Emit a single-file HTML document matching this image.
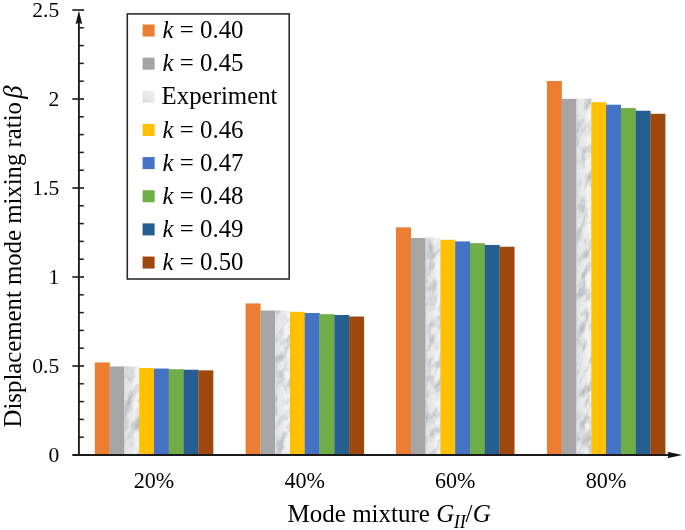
<!DOCTYPE html>
<html><head><meta charset="utf-8"><title>chart</title>
<style>
html,body{margin:0;padding:0;background:#fff;}
svg{display:block;will-change:transform;filter:blur(0.4px);}
text{font-family:"Liberation Serif",serif;fill:#000;}
</style></head><body>
<svg width="685" height="530" viewBox="0 0 685 530">
<defs>
<filter id="mf" x="0" y="0" width="100%" height="100%" color-interpolation-filters="sRGB">
<feTurbulence type="fractalNoise" baseFrequency="0.14 0.065" numOctaves="5" seed="5" result="n"/>
<feColorMatrix in="n" type="matrix" values="0 0 0 0 0.66  0 0 0 0 0.68  0 0 0 0 0.70  -2.0 0 0 0 1.13"/>
</filter>
<linearGradient id="mg" x1="0" y1="0" x2="1" y2="0">
<stop offset="0" stop-color="#e1e2e4"/><stop offset="0.5" stop-color="#e8e9eb"/><stop offset="0.72" stop-color="#f1f1f2"/><stop offset="1" stop-color="#f4f4f5"/>
</linearGradient>
<clipPath id="mc">
<rect x="124.38" y="366.44" width="14.99" height="88.56"/>
<rect x="275.18" y="310.52" width="14.99" height="144.48"/>
<rect x="425.58" y="237.48" width="14.99" height="217.52"/>
<rect x="576.48" y="98.82" width="14.99" height="356.18"/>
</clipPath>
<linearGradient id="sg" x1="0" y1="1" x2="1" y2="0"><stop offset="0" stop-color="#d9dadc"/><stop offset="0.45" stop-color="#e6e7e9"/><stop offset="1" stop-color="#f1f1f2"/></linearGradient>
</defs>
<rect width="685" height="530" fill="#fff"/>

<rect x="94.80" y="362.44" width="14.99" height="92.56" fill="#ED7D31"/>
<rect x="109.59" y="366.44" width="14.99" height="88.56" fill="#A5A5A5"/>
<rect x="124.38" y="366.44" width="14.99" height="88.56" fill="url(#mg)"/>
<rect x="139.17" y="367.96" width="14.99" height="87.04" fill="#FFC000"/>
<rect x="153.96" y="368.55" width="14.99" height="86.45" fill="#4472C4"/>
<rect x="168.75" y="369.20" width="14.99" height="85.80" fill="#70AD47"/>
<rect x="183.54" y="369.74" width="14.99" height="85.26" fill="#255E91"/>
<rect x="198.33" y="370.36" width="14.99" height="84.64" fill="#9E480E"/>
<rect x="245.60" y="303.42" width="14.99" height="151.58" fill="#ED7D31"/>
<rect x="260.39" y="310.52" width="14.99" height="144.48" fill="#A5A5A5"/>
<rect x="275.18" y="310.52" width="14.99" height="144.48" fill="url(#mg)"/>
<rect x="289.97" y="311.82" width="14.99" height="143.18" fill="#FFC000"/>
<rect x="304.76" y="313.03" width="14.99" height="141.97" fill="#4472C4"/>
<rect x="319.55" y="314.20" width="14.99" height="140.80" fill="#70AD47"/>
<rect x="334.34" y="315.02" width="14.99" height="139.98" fill="#255E91"/>
<rect x="349.13" y="316.52" width="14.99" height="138.48" fill="#9E480E"/>
<rect x="396.00" y="227.34" width="14.99" height="227.66" fill="#ED7D31"/>
<rect x="410.79" y="238.02" width="14.99" height="216.98" fill="#A5A5A5"/>
<rect x="425.58" y="237.48" width="14.99" height="217.52" fill="url(#mg)"/>
<rect x="440.37" y="239.80" width="14.99" height="215.20" fill="#FFC000"/>
<rect x="455.16" y="241.40" width="14.99" height="213.60" fill="#4472C4"/>
<rect x="469.95" y="243.18" width="14.99" height="211.82" fill="#70AD47"/>
<rect x="484.74" y="244.96" width="14.99" height="210.04" fill="#255E91"/>
<rect x="499.53" y="246.74" width="14.99" height="208.26" fill="#9E480E"/>
<rect x="546.90" y="81.02" width="14.99" height="373.98" fill="#ED7D31"/>
<rect x="561.69" y="98.82" width="14.99" height="356.18" fill="#A5A5A5"/>
<rect x="576.48" y="98.82" width="14.99" height="356.18" fill="url(#mg)"/>
<rect x="591.27" y="102.20" width="14.99" height="352.80" fill="#FFC000"/>
<rect x="606.06" y="104.70" width="14.99" height="350.30" fill="#4472C4"/>
<rect x="620.85" y="108.08" width="14.99" height="346.92" fill="#70AD47"/>
<rect x="635.64" y="110.75" width="14.99" height="344.25" fill="#255E91"/>
<rect x="650.43" y="113.77" width="14.99" height="341.23" fill="#9E480E"/>
<g clip-path="url(#mc)"><rect x="-100" y="-100" width="900" height="760" transform="rotate(20 342 265)" filter="url(#mf)"/></g>
<g stroke="#1a1a1a" fill="none">
<line x1="78.9" y1="20" x2="78.9" y2="455.0" stroke-width="1.85"/>
<line x1="72.3" y1="455.0" x2="669" y2="455.0" stroke-width="1.85"/>
<line x1="78.9" y1="437.20" x2="83.8" y2="437.20" stroke-width="1.5"/>
<line x1="78.9" y1="419.40" x2="83.8" y2="419.40" stroke-width="1.5"/>
<line x1="78.9" y1="401.60" x2="83.8" y2="401.60" stroke-width="1.5"/>
<line x1="78.9" y1="383.80" x2="83.8" y2="383.80" stroke-width="1.5"/>
<line x1="72.3" y1="366.00" x2="84" y2="366.00" stroke-width="1.6"/>
<line x1="78.9" y1="348.20" x2="83.8" y2="348.20" stroke-width="1.5"/>
<line x1="78.9" y1="330.40" x2="83.8" y2="330.40" stroke-width="1.5"/>
<line x1="78.9" y1="312.60" x2="83.8" y2="312.60" stroke-width="1.5"/>
<line x1="78.9" y1="294.80" x2="83.8" y2="294.80" stroke-width="1.5"/>
<line x1="72.3" y1="277.00" x2="84" y2="277.00" stroke-width="1.6"/>
<line x1="78.9" y1="259.20" x2="83.8" y2="259.20" stroke-width="1.5"/>
<line x1="78.9" y1="241.40" x2="83.8" y2="241.40" stroke-width="1.5"/>
<line x1="78.9" y1="223.60" x2="83.8" y2="223.60" stroke-width="1.5"/>
<line x1="78.9" y1="205.80" x2="83.8" y2="205.80" stroke-width="1.5"/>
<line x1="72.3" y1="188.00" x2="84" y2="188.00" stroke-width="1.6"/>
<line x1="78.9" y1="170.20" x2="83.8" y2="170.20" stroke-width="1.5"/>
<line x1="78.9" y1="152.40" x2="83.8" y2="152.40" stroke-width="1.5"/>
<line x1="78.9" y1="134.60" x2="83.8" y2="134.60" stroke-width="1.5"/>
<line x1="78.9" y1="116.80" x2="83.8" y2="116.80" stroke-width="1.5"/>
<line x1="72.3" y1="99.00" x2="84" y2="99.00" stroke-width="1.6"/>
<line x1="78.9" y1="81.20" x2="83.8" y2="81.20" stroke-width="1.5"/>
<line x1="78.9" y1="63.40" x2="83.8" y2="63.40" stroke-width="1.5"/>
<line x1="78.9" y1="45.60" x2="83.8" y2="45.60" stroke-width="1.5"/>
<line x1="78.9" y1="27.80" x2="83.8" y2="27.80" stroke-width="1.5"/>
<line x1="72.3" y1="10.00" x2="84" y2="10.00" stroke-width="1.6"/>
</g>
<path d="M78.9 10.6 L82.2 24.2 L78.9 22.6 L75.60000000000001 24.2 Z" fill="#111"/>
<path d="M682.2 455.0 L667.3 451.7 L669 455.0 L667.3 458.3 Z" fill="#111"/>
<text x="59.3" y="462.40" font-size="21.6" text-anchor="end">0</text>
<text x="59.3" y="373.40" font-size="21.6" text-anchor="end">0.5</text>
<text x="59.3" y="284.40" font-size="21.6" text-anchor="end">1</text>
<text x="59.3" y="195.40" font-size="21.6" text-anchor="end">1.5</text>
<text x="59.3" y="106.40" font-size="21.6" text-anchor="end">2</text>
<text x="59.3" y="17.40" font-size="21.6" text-anchor="end">2.5</text>
<text x="153.96" y="487.9" font-size="22.1" text-anchor="middle">20%</text>
<text x="304.76" y="487.9" font-size="22.1" text-anchor="middle">40%</text>
<text x="455.16" y="487.9" font-size="22.1" text-anchor="middle">60%</text>
<text x="606.06" y="487.9" font-size="22.1" text-anchor="middle">80%</text>
<text x="287.6" y="522.4" font-size="25">Mode mixture <tspan font-style="italic" dx="0">G</tspan><tspan font-style="italic" font-size="18.4" dy="5.2" dx="-0.6">II</tspan><tspan dy="-5.2" dx="-0.3">/</tspan><tspan font-style="italic" dx="0.3">G</tspan></text>
<text transform="translate(21.0,427.4) rotate(-90)" font-size="24.78">Displacement mode mixing ratio</text>
<text transform="translate(21.5,98.8) rotate(-90)" font-size="26.6" font-style="italic">β</text>
<rect x="127.3" y="13.9" width="161.9" height="265.1" fill="#fff" stroke="#262626" stroke-width="1.55"/>
<rect x="142.6" y="24.50" width="12" height="12" fill="#ED7D31"/>
<text x="162.6" y="38.10" font-size="24.85"><tspan font-style="italic">k</tspan> = 0.40</text>
<rect x="142.6" y="57.65" width="12" height="12" fill="#A5A5A5"/>
<text x="162.6" y="71.25" font-size="24.85"><tspan font-style="italic">k</tspan> = 0.45</text>
<rect x="142.6" y="90.80" width="12" height="12" fill="url(#sg)"/>
<text x="161.6" y="104.40" font-size="24.85">Experiment</text>
<rect x="142.6" y="123.95" width="12" height="12" fill="#FFC000"/>
<text x="162.6" y="137.55" font-size="24.85"><tspan font-style="italic">k</tspan> = 0.46</text>
<rect x="142.6" y="157.10" width="12" height="12" fill="#4472C4"/>
<text x="162.6" y="170.70" font-size="24.85"><tspan font-style="italic">k</tspan> = 0.47</text>
<rect x="142.6" y="190.25" width="12" height="12" fill="#70AD47"/>
<text x="162.6" y="203.85" font-size="24.85"><tspan font-style="italic">k</tspan> = 0.48</text>
<rect x="142.6" y="223.40" width="12" height="12" fill="#255E91"/>
<text x="162.6" y="237.00" font-size="24.85"><tspan font-style="italic">k</tspan> = 0.49</text>
<rect x="142.6" y="256.55" width="12" height="12" fill="#9E480E"/>
<text x="162.6" y="270.15" font-size="24.85"><tspan font-style="italic">k</tspan> = 0.50</text>
</svg></body></html>
